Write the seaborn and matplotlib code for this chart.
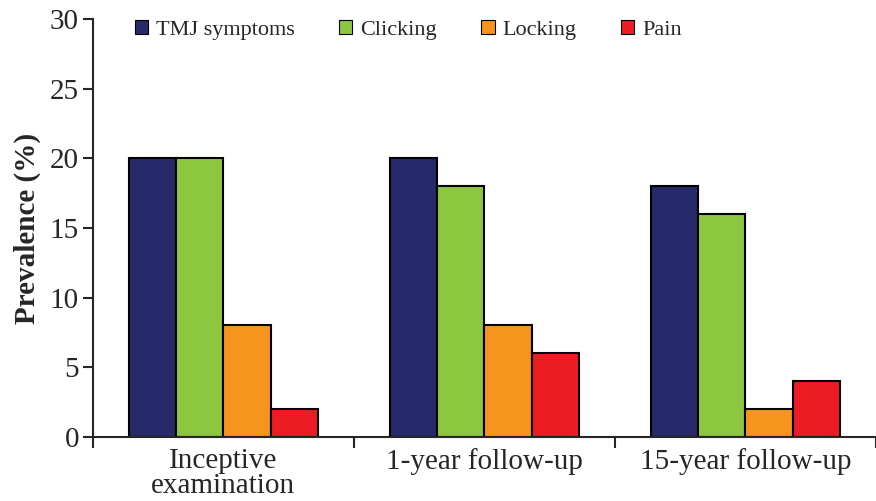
import pandas as pd
import matplotlib.pyplot as plt
import seaborn as sns
from matplotlib.patches import Patch

# data
groups = ["Inceptive\nexamination", "1-year follow-up", "15-year follow-up"]
series = ["TMJ symptoms", "Clicking", "Locking", "Pain"]
tmj = [20, 20, 18]
clicking = [20, 18, 16]
locking = [8, 8, 2]
pain = [2, 6, 4]
colors = ["#272a6a", "#8dc63f", "#f7941d", "#ed1c24"]

df = pd.DataFrame({
    "group": groups * 4,
    "series": [s for s in series for _ in groups],
    "value": tmj + clicking + locking + pain,
})

sns.set_style("ticks")
plt.rcParams["font.family"] = ["Liberation Serif", "DejaVu Serif"]

fig = plt.figure(figsize=(8.76, 5.01), dpi=100)
ax = fig.add_axes([0.106, 0.128, 0.894, 0.834])

sns.barplot(data=df, x="group", y="value", hue="series", order=groups,
            hue_order=series, palette=colors, width=0.725, saturation=1,
            edgecolor="black", linewidth=1.5, ax=ax, legend=False)

ax.set_ylim(0, 30)
ax.set_xlim(-0.5, 2.5)
ax.set_yticks(range(0, 31, 5))
ax.set_xticks([-0.5, 0.5, 1.5, 2.5], minor=True)
ax.tick_params(axis="x", which="major", length=0, labelsize=21, pad=8)
ax.tick_params(axis="x", which="minor", length=8, width=1.5, direction="out")
ax.tick_params(axis="y", length=7, width=1.5, labelsize=21, pad=3)
for lbl in ax.get_xticklabels():
    lbl.set_linespacing(0.95)
ax.set_xlabel("")
ax.set_ylabel("Prevalence (%)", fontsize=21, fontweight="bold", labelpad=6)
for side in ["top", "right"]:
    ax.spines[side].set_visible(False)
for side in ["left", "bottom"]:
    ax.spines[side].set_linewidth(1.5)

handles = [Patch(facecolor=c, edgecolor="black", linewidth=0.8) for c in colors]
ax.legend(handles, series, loc="upper left", bbox_to_anchor=(0.028, 1.045),
          ncol=4, frameon=False, fontsize=16, handlelength=0.6,
          handleheight=0.6, handletextpad=0.35, columnspacing=2.0)

plt.savefig("out.png", dpi=100)
